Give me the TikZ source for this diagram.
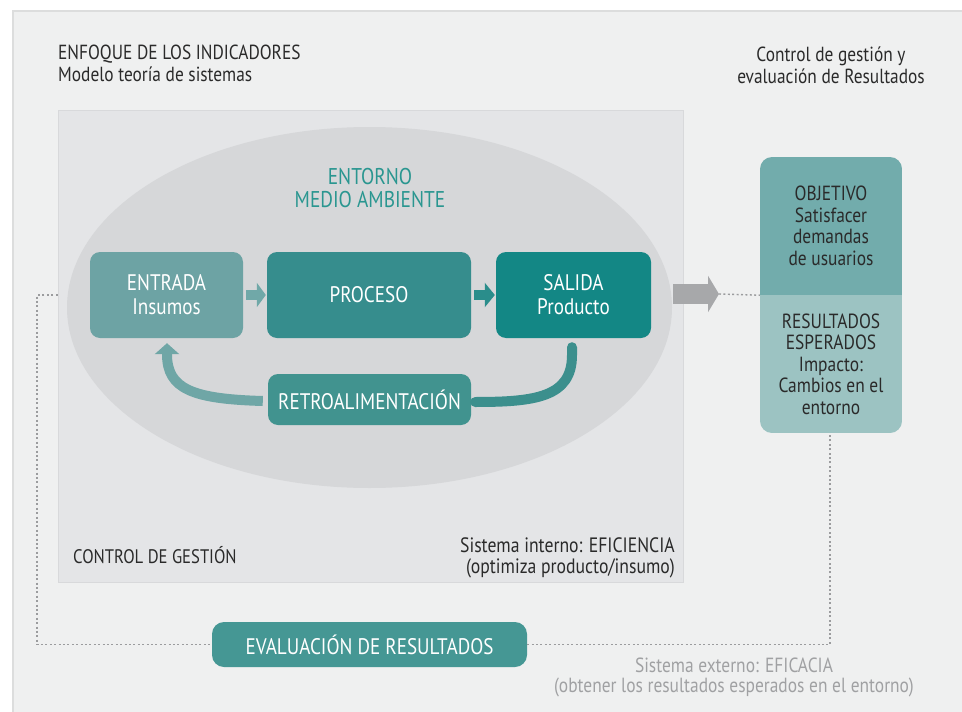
\documentclass[tikz,border=0pt]{standalone}
\usepackage{fontspec}
\setmainfont{PT Sans}[FakeStretch=0.85]
\usetikzlibrary{arrows.meta}
\definecolor{bgc}{HTML}{EFF0F0}
\definecolor{framec}{HTML}{DCDDDD}
\definecolor{panelc}{HTML}{E4E5E7}
\definecolor{panelline}{HTML}{D8D9DB}
\definecolor{ellc}{HTML}{D6D7D9}
\definecolor{tealtxt}{HTML}{2A9690}
\definecolor{entc}{HTML}{6DA3A4}
\definecolor{proc}{HTML}{368D8D}
\definecolor{salc}{HTML}{138785}
\definecolor{retc}{HTML}{41938F}
\definecolor{evalc}{HTML}{459794}
\definecolor{objc}{HTML}{72ACAC}
\definecolor{resc}{HTML}{9CC3C2}
\definecolor{arrg}{HTML}{A7A8AA}
\definecolor{dotc}{HTML}{9B9C9E}
\definecolor{graytxt}{HTML}{A0A1A3}
\definecolor{darktxt}{HTML}{2A2A2A}
\definecolor{fbleft}{HTML}{6FA6A6}
\definecolor{fbright}{HTML}{3C8F8D}
\definecolor{arr1}{HTML}{70A8A8}
\definecolor{arr2}{HTML}{2A8D8B}
\tikzset{
  tbox/.style={rounded corners=10pt, inner sep=0pt, text=white, align=center,
    font=\fontsize{22.5}{24}\selectfont},
  darkt/.style={text=darktxt, inner sep=0pt, font=\fontsize{20.4}{22}\selectfont},
  dotline/.style={dotc, line width=1.4pt, dash pattern=on 2pt off 2.4pt},
  sidetxt/.style={text=darktxt, inner sep=0pt, align=center, font=\fontsize{20.5}{21.5}\selectfont},
}
\begin{document}
\begin{tikzpicture}[x=1pt,y=-1pt]
\useasboundingbox (0,0) rectangle (962,712);
\fill[white] (0,0) rectangle (962,712);
\fill[bgc] (12,10) rectangle (962,712);
\draw[framec, line width=1.5pt] (12.75,712) -- (12.75,10.75) -- (962,10.75);
% inner panel
\node[fill=panelc, draw=panelline, line width=1pt, minimum width=625pt, minimum height=472pt, inner sep=0pt] (panel) at (370.5,346) {};
% ellipse
\fill[ellc] (369.5,307.5) ellipse [x radius=302.5, y radius=180.5];
% titles
\node[darkt, anchor=base west] (t1) at (58,59.5) {ENFOQUE DE LOS INDICADORES};
\node[darkt, anchor=base west] (t2) at (58,81.5) {Modelo teoría de sistemas};
\node[darkt, anchor=base] (t3) at (831,61.5) {Control de gestión y};
\node[darkt, anchor=base] (t4) at (831,83.5) {evaluación de Resultados};
\node[text=tealtxt, inner sep=0pt, anchor=base, font=\fontsize{22.8}{23}\selectfont] (ent1) at (370,184) {ENTORNO};
\node[text=tealtxt, inner sep=0pt, anchor=base, font=\fontsize{22.8}{23}\selectfont] (ent2) at (370,207.3) {MEDIO AMBIENTE};
% boxes
\node[tbox, fill=entc, minimum width=153pt, minimum height=86pt] (entrada) at (166.5,295) {ENTRADA\\Insumos};
\node[tbox, fill=proc, minimum width=204pt, minimum height=86pt] (proceso) at (369,295) {PROCESO};
\node[tbox, fill=salc, minimum width=155pt, minimum height=86pt] (salida) at (573.5,295) {SALIDA\\Producto};
\node[tbox, fill=retc, minimum width=203pt, minimum height=51pt] (retro) at (369.5,399.5) {RETROALIMENTACIÓN};
% small arrows
\draw[arr1, line width=10pt, -{Triangle[width=24pt,length=9pt]}] ([xshift=3pt]entrada.east) -- ([xshift=-1pt]proceso.west);
\draw[arr2, line width=10pt, -{Triangle[width=24pt,length=10pt]}] ([xshift=3pt]proceso.east) -- ([xshift=-1pt]salida.west);
% feedback
\draw[fbright, line width=10pt, line cap=round] ([xshift=-1.5pt,yshift=-9pt]salida.south) -- ++(0,8) .. controls +(0,42) and +(60,0) .. ([xshift=4pt,yshift=-2.5pt]retro.east);
\draw[fbleft, line width=10pt, -{Triangle[width=24pt,length=11pt]}] ([xshift=-5pt,yshift=-1.5pt]retro.west) .. controls +(-70,-2) and +(0,35) .. ([xshift=0.5pt,yshift=-16pt]entrada.south) -- ([xshift=0.5pt,yshift=-5pt]entrada.south);
% panel texts
\node[darkt, anchor=base west, font=\fontsize{19.6}{22}\selectfont] (cg) at (73,563) {CONTROL DE GESTIÓN};
\node[darkt, anchor=base east, font=\fontsize{20.8}{22}\selectfont] (si1) at (675,552.5) {Sistema interno: EFICIENCIA};
\node[darkt, anchor=base east, font=\fontsize{20.8}{22}\selectfont] (si2) at (675,573.5) {(optimiza producto/insumo)};
% right box
\begin{scope}
\clip[rounded corners=12pt] (760,157) rectangle (902,433);
\node[fill=objc, minimum width=142pt, minimum height=138pt, inner sep=0pt] (obj) at (831,226) {};
\node[fill=resc, minimum width=142pt, minimum height=138pt, inner sep=0pt] (res) at (831,364) {};
\end{scope}
\node[sidetxt] (objt) at (obj.center) {OBJETIVO\\Satisfacer\\demandas\\de usuarios};
\node[sidetxt] (rest) at (res.center) {RESULTADOS\\ESPERADOS\\Impacto:\\Cambios en el\\entorno};
% gray arrow
\coordinate (ga1) at (673,294);
\coordinate (ga2) at (719,294);
\draw[arrg, line width=20pt, -{Triangle[width=36pt,length=11pt]}] (ga1) -- (ga2);
% evaluation
\node[tbox, fill=evalc, minimum width=315pt, minimum height=45pt, rounded corners=12pt, font=\fontsize{22.5}{24}\selectfont] (eval) at (369.5,644.5) {EVALUACIÓN DE RESULTADOS};
% dotted lines
\coordinate (dl1) at (37,295);
\coordinate (dl2) at (37,644.5);
\coordinate (dr1) at (830,644.5);
\draw[dotline] (panel.west |- dl1) -- (dl1) -- (dl2) -- (eval.west);
\draw[dotline] (eval.east) -- (dr1) -- (res.south -| dr1);
\draw[dotline] (ga2) -- (obj.south west);
% external text
\node[text=graytxt, inner sep=0pt, anchor=base, font=\fontsize{20.5}{22}\selectfont] (se1) at (734,672) {Sistema externo: EFICACIA};
\node[text=graytxt, inner sep=0pt, anchor=base, font=\fontsize{20.5}{22}\selectfont] (se2) at (734,692) {(obtener los resultados esperados en el entorno)};
\end{tikzpicture}
\end{document}
